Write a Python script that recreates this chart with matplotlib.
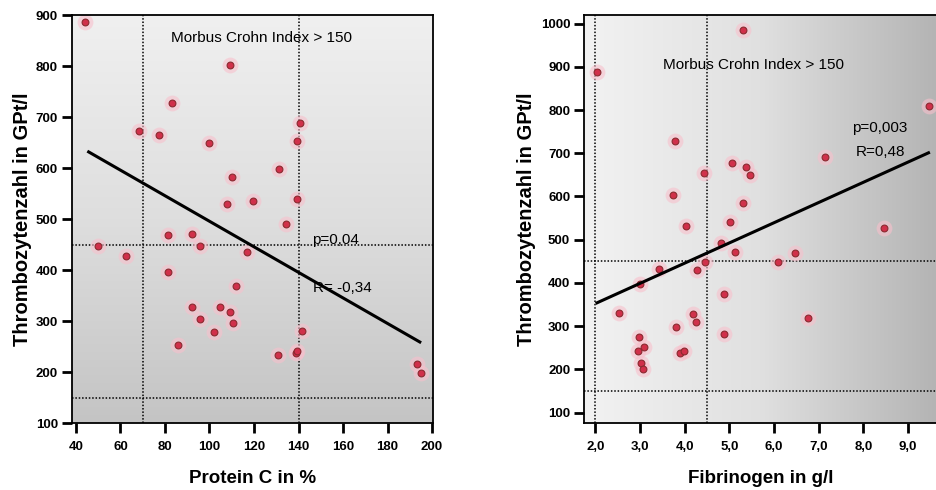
import numpy as np
import matplotlib
matplotlib.use('Agg')
import matplotlib.pyplot as plt
from matplotlib.colors import LinearSegmentedColormap

# Left panel: Protein C vs. Thrombozytenzahl
protein_c = [44.2, 109, 83.3, 68.4, 77.3, 99.7, 140.7, 139.5, 131.3, 110.1, 107.8, 119.4,
             139.5, 134.3, 81.3, 92.2, 95.7, 50.1, 62.4, 116.9, 81.3, 112, 92.2, 104.5,
             109.4, 110.4, 95.7, 102, 141.6, 86, 130.7, 138.9, 139.5, 193.4, 195.2]
thrombo_left = [887, 803, 728, 673, 665, 650, 688, 654, 598, 582, 529, 536,
                540, 491, 469, 471, 447, 447, 428, 436, 396, 369, 328, 328,
                317, 297, 304, 278, 281, 253, 233, 238, 242, 215, 199]
fit_left_x = [45.7, 194.5]
fit_left_y = [632, 259]

# Right panel: Fibrinogen vs. Thrombozytenzahl
fibrinogen = [5.31, 2.04, 9.46, 3.79, 5.06, 5.38, 5.47, 4.43, 7.15, 3.74, 5.30, 4.03,
              5.02, 8.46, 4.82, 5.14, 6.48, 6.10, 4.45, 3.42, 4.28, 3.01, 4.89, 2.54,
              4.18, 4.26, 3.81, 6.76, 4.89, 2.99, 3.10, 2.95, 3.90, 3.99, 3.03, 3.08]
thrombo_right = [985, 888, 809, 729, 678, 668, 649, 655, 692, 603, 584, 531,
                 541, 526, 493, 472, 470, 449, 449, 433, 431, 397, 374, 331,
                 328, 310, 298, 318, 281, 275, 252, 243, 238, 243, 215, 202]
fit_right_x = [2.04, 9.46]
fit_right_y = [354, 701]

xlabel_font = dict(fontsize=13.5, fontweight='bold', family='Liberation Sans')
ylabel_font = dict(fontsize=14.5, fontweight='bold', family='Liberation Sans')
text_font = dict(fontsize=11, family='Liberation Sans')


def shade(ax, direction):
    # grey gradient in the plot area
    g = np.linspace(0, 1, 256)
    if direction == 'vertical':
        cmap = LinearSegmentedColormap.from_list('v', ['#f0f0f0', '#dedede', '#c4c4c4'])
        img = np.tile(g[:, None], (1, 2))
        ax.imshow(img, cmap=cmap, aspect='auto', extent=(0, 1, 0, 1),
                  transform=ax.transAxes, origin='upper', zorder=0)
    else:
        cmap = LinearSegmentedColormap.from_list('h', ['#f2f2f2', '#e0e0e0', '#b4b4b4'])
        img = np.tile(g[None, :], (2, 1))
        ax.imshow(img, cmap=cmap, aspect='auto', extent=(0, 1, 0, 1),
                  transform=ax.transAxes, zorder=0)


def style(ax):
    for s in ax.spines.values():
        s.set_linewidth(1.3)
    ax.tick_params(direction='out', length=7, width=2, labelsize=9.5, pad=3)
    ax.tick_params(axis='x', pad=6)
    for lab in ax.get_xticklabels() + ax.get_yticklabels():
        lab.set_fontweight('bold')
        lab.set_family('Liberation Sans')


def points(ax, x, y):
    ax.scatter(x, y, s=130, color='#f8c0cc', alpha=0.6, linewidths=0, zorder=2)
    ax.scatter(x, y, s=24, color='#d0304a', edgecolors='#8a2a30', linewidths=0.8, zorder=3)


fig = plt.figure(figsize=(9.37, 4.9), dpi=100)

ax1 = fig.add_axes([0.0768, 0.1367, 0.385, 0.832])
shade(ax1, 'vertical')
ax1.set_xlim(38.2, 200.3)
ax1.set_ylim(100, 900)
ax1.set_xticks(np.arange(40, 201, 20))
ax1.set_yticks(np.arange(100, 901, 100))
for xv in [70, 140]:
    ax1.axvline(xv, color='black', linestyle=(0, (1, 1.2)), linewidth=1.1, zorder=1)
for yv in [450, 150]:
    ax1.axhline(yv, color='black', linestyle=(0, (1, 1.2)), linewidth=1.1, zorder=1)
points(ax1, protein_c, thrombo_left)
ax1.plot(fit_left_x, fit_left_y, color='black', linewidth=2.2, zorder=4)
ax1.text(123.5, 856, 'Morbus Crohn Index > 150', ha='center', va='center', **text_font)
ax1.text(146.3, 459, 'p=0,04', ha='left', va='center', **text_font)
ax1.text(146.3, 364, 'R= -0,34', ha='left', va='center', **text_font)
ax1.set_xlabel('Protein C in %', labelpad=12, **xlabel_font)
ax1.set_ylabel('Thrombozytenzahl in GPt/l', labelpad=3, **ylabel_font)
style(ax1)

ax2 = fig.add_axes([0.6233, 0.1367, 0.3767, 0.832])
shade(ax2, 'horizontal')
ax2.set_xlim(1.75, 9.65)
ax2.set_ylim(76, 1019)
ax2.set_xticks(np.arange(2, 10, 1))
ax2.set_xticklabels(['2,0', '3,0', '4,0', '5,0', '6,0', '7,0', '8,0', '9,0'])
ax2.set_yticks(np.arange(100, 1001, 100))
ax2.spines['right'].set_visible(False)
for xv in [2.0, 4.5]:
    ax2.axvline(xv, color='black', linestyle=(0, (1, 1.2)), linewidth=1.1, zorder=1)
for yv in [450, 150]:
    ax2.axhline(yv, color='black', linestyle=(0, (1, 1.2)), linewidth=1.1, zorder=1)
points(ax2, fibrinogen, thrombo_right)
ax2.plot(fit_right_x, fit_right_y, color='black', linewidth=2.2, zorder=4)
ax2.text(5.54, 904, 'Morbus Crohn Index > 150', ha='center', va='center', **text_font)
ax2.text(8.36, 759, 'p=0,003', ha='center', va='center', **text_font)
ax2.text(8.38, 703, 'R=0,48', ha='center', va='center', **text_font)
ax2.set_xlabel('Fibrinogen in g/l', labelpad=12, **xlabel_font)
ax2.set_ylabel('Thrombozytenzahl in GPt/l', labelpad=3, **ylabel_font)
style(ax2)

fig.savefig('out.png', dpi=100)
